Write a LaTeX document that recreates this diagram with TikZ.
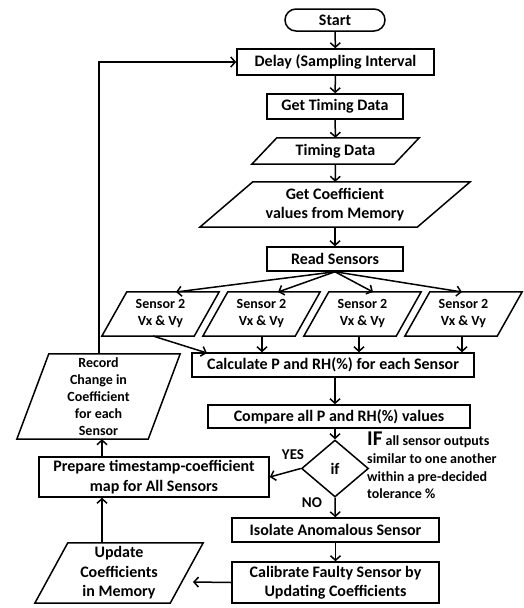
\documentclass[tikz,border=0pt]{standalone}
\usepackage{fontspec}
\setmainfont{Carlito}
\usetikzlibrary{arrows.meta,shapes.geometric}
\newcommand\drawpara[2]{\draw[boxline] ([xshift=#2]#1.north west) -- (#1.north east) -- ([xshift=-#2]#1.south east) -- (#1.south west) -- cycle;}
\begin{document}
\begin{tikzpicture}[x=1pt,y=-1pt,
  boxline/.style={line width=1.5pt},
  proc/.style={draw,line width=1.5pt,rectangle,inner sep=1pt,align=center,font=\bfseries\fontsize{16}{19.5}\selectfont},
  pnode/.style={rectangle,inner sep=1pt,align=center,font=\bfseries\fontsize{16}{19.5}\selectfont},
  snode/.style={pnode,font=\bfseries\fontsize{14}{17}\selectfont,minimum width=117,minimum height=44},
  arr/.style={line width=1.5pt,-{Straight Barb[length=4.5pt,width=10pt,line width=1.5pt]}},
  lbl/.style={font=\bfseries\fontsize{15}{17}\selectfont,inner sep=0pt}]
\useasboundingbox (0,0) rectangle (523,608);

\node[proc,rounded corners=11pt,minimum width=100,minimum height=22] (start) at (335,20) {Start};
\node[proc,minimum width=197,minimum height=26] (delay) at (335.5,62) {Delay (Sampling Interval};
\node[proc,minimum width=136,minimum height=25] (gettime) at (335,106.5) {Get Timing Data};
\node[pnode,minimum width=167,minimum height=26] (timing) at (335.5,151) {Timing Data};
\drawpara{timing}{25}
\node[pnode,minimum width=270,minimum height=45] (getcoef) at (335,204.5) {Get Coefficient\\values from Memory};
\drawpara{getcoef}{53}
\node[proc,minimum width=136,minimum height=24] (read) at (335,259) {Read Sensors};

\node[snode] (s1) at (160.5,314) {Sensor 2\\Vx \& Vy};
\drawpara{s1}{25}
\node[snode] (s2) at (261.5,314) {Sensor 2\\Vx \& Vy};
\drawpara{s2}{25}
\node[snode] (s3) at (362.5,314) {Sensor 2\\Vx \& Vy};
\drawpara{s3}{25}
\node[snode] (s4) at (463.5,314) {Sensor 2\\Vx \& Vy};
\drawpara{s4}{25}

\node[proc,minimum width=282,minimum height=24] (calc) at (333,365) {Calculate P and RH(\%) for each Sensor};
\node[proc,minimum width=262,minimum height=23] (compare) at (339,416.5) {Compare all P and RH(\%) values};
\node[draw,line width=1.5pt,diamond,inner sep=0pt,minimum width=67,minimum height=57,font=\bfseries\fontsize{16}{18}\selectfont] (dec) at (335,468.5) {if};
\node[proc,minimum width=230,minimum height=40] (prep) at (154,477) {Prepare timestamp-coefficient\\map for All Sensors};
\node[proc,minimum width=207,minimum height=24] (iso) at (335.5,530) {Isolate Anomalous Sensor};
\node[proc,minimum width=207,minimum height=41] (cal) at (335.5,582.5) {Calibrate Faulty Sensor by\\Updating Coefficients};
\node[pnode,minimum width=168,minimum height=60] (upd) at (119,573) {Update\\Coefficients\\in Memory};
\drawpara{upd}{33}
\node[pnode,minimum width=163,minimum height=85,font=\bfseries\fontsize{14}{17}\selectfont] (rec) at (98.5,396.5) {Record\\Change in\\Coefficient\\for each\\Sensor};
\drawpara{rec}{32}

\node[lbl] (yes) at (293,455) {YES};
\node[lbl] (no) at (312,503) {NO};
\node[anchor=north west,inner sep=0pt,align=left,font=\bfseries\fontsize{14}{17.7}\selectfont] (iftext) at (367,432)
  {{\fontsize{21}{21}\selectfont IF} all sensor outputs\\similar to one another\\within a pre-decided\\tolerance \%};

% coordinates for off-centre connectors
\coordinate (t1) at (176,292);
\coordinate (t2) at (278,292);
\coordinate (t3) at (373,292);
\coordinate (t4) at (462,292);
\coordinate (b1) at (153,336);
\coordinate (c1) at (207,353);
\coordinate (colx) at (102,0);
\coordinate (loopx) at (99,0);
\coordinate (updend) at (193,582);

\draw[arr] (start) -- (delay);
\draw[arr] (delay) -- (gettime);
\draw[arr] (gettime) -- (timing);
\draw[arr] (timing) -- (getcoef);
\draw[arr] (getcoef) -- (read);
\draw[arr] (read.south) -- (t1);
\draw[arr] (read.south) -- (t2);
\draw[arr] (read.south) -- (t3);
\draw[arr] (read.south) -- (t4);
\draw[arr] (b1) -- (c1);
\draw[arr] (s2.south -| 262,0) -- (calc.north -| 262,0);
\draw[arr] (s3.south -| 359,0) -- (calc.north -| 359,0);
\draw[arr] (s4.south -| 462,0) -- (calc.north -| 462,0);
\draw[arr] (calc.south -| dec) -- (compare.north -| dec);
\draw[arr] (compare.south -| dec) -- (dec.north);
\draw[arr] (dec.south) -- (iso);
\draw[arr] (iso) -- (cal);
\draw[arr] (dec.west) -- (prep.east);
\draw[arr] (cal.west) -- (updend);
\draw[arr] (upd.north -| colx) -- (prep.south -| colx);
\draw[arr] (prep.north -| colx) -- (rec.south -| colx);
\draw[arr] (rec.north -| loopx) |- (delay.west);
\end{tikzpicture}
\end{document}
